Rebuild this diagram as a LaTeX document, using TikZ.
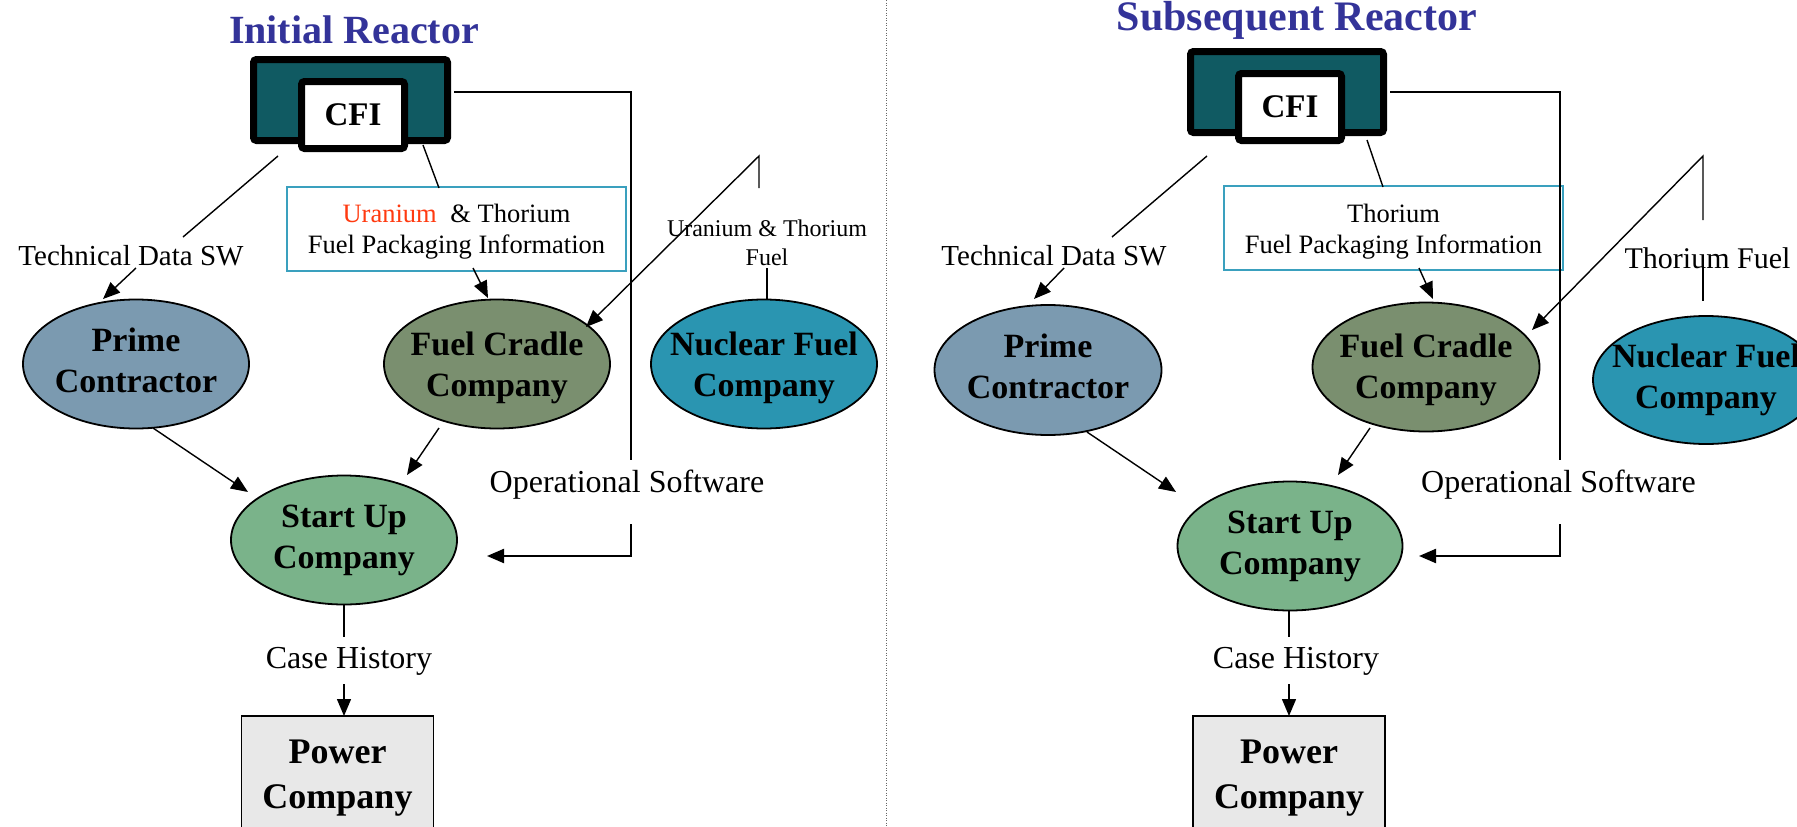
\documentclass[tikz,border=0pt]{standalone}
\usepackage{fontspec}
\setmainfont{Liberation Serif}
\usetikzlibrary{shapes.geometric,arrows.meta}
\definecolor{titleBlue}{RGB}{51,51,153}
\definecolor{cfiTeal}{RGB}{16,90,98}
\definecolor{boxBlue}{RGB}{58,160,190}
\definecolor{uranRed}{RGB}{255,58,16}
\definecolor{primeC}{RGB}{123,154,176}
\definecolor{cradleC}{RGB}{122,143,111}
\definecolor{nuclearC}{RGB}{42,149,177}
\definecolor{startC}{RGB}{122,179,138}
\definecolor{powerC}{RGB}{232,232,232}
\newcommand{\ztext}[2][0pt]{\makebox[0pt]{\raisebox{#1}[\height][\depth]{\begin{tabular}{@{}c@{}}#2\end{tabular}}}}
\begin{document}
\begin{tikzpicture}[x=1pt,y=-1pt,
 every node/.style={inner sep=0pt,outer sep=0pt},
 titlefont/.style={font=\fontsize{40}{48}\selectfont\bfseries,text=titleBlue},
 cfiout/.style={draw=black,line width=7pt,fill=cfiTeal,rounded corners=3pt,minimum width=194pt,minimum height=81pt},
 cfiin/.style={draw=black,line width=7pt,fill=white,rounded corners=3pt,minimum width=103pt,minimum height=67pt,font=\fontsize{33}{40}\selectfont\bfseries},
 ell/.style={ellipse,draw=black,line width=1.8pt,minimum width=226pt,minimum height=129pt,font=\fontsize{34}{41}\selectfont\bfseries},
 infobox/.style={draw=boxBlue,line width=2pt,fill=white,minimum width=339pt,minimum height=84pt,font=\fontsize{26.5}{31}\selectfont},
 powerbox/.style={draw=black,line width=1.8pt,fill=powerC,minimum width=192pt,minimum height=121pt,font=\fontsize{36}{45}\selectfont\bfseries},
 lbl/.style={font=\fontsize{32}{38}\selectfont},
 conn/.style={line width=1.4pt},
 arr/.style={line width=1.4pt,-{Triangle[length=17pt,width=14pt]}},
 oparr/.style={line width=2.2pt,-{Triangle[length=17pt,width=14pt]}}
]
\useasboundingbox (0,0) rectangle (1797,827);

% divider
\draw[line width=1pt,dash pattern=on 1pt off 1.5pt,black!60] (886,0) -- (886,827);

% ================= LEFT PANEL =================
\node[titlefont,anchor=base] (titleL) at (354,43) {Initial Reactor};
\node[cfiout] (cfiOutL) at (350.5,100) {};
\node[cfiin] (cfiInL) at (353,115) {CFI};

\node[infobox] (boxL) at (456.5,228.5) {\ztext[-3pt]{{\color{uranRed}Uranium}\hspace{7pt} \& Thorium\\Fuel Packaging Information}};

\node[ell,fill=primeC] (primeL) at (136,364) {\ztext{Prime\\Contractor}};
\node[ell,fill=cradleC] (cradleL) at (497,364) {\ztext[-4pt]{Fuel Cradle\\Company}};
\node[ell,fill=nuclearC] (nuclearL) at (764,364) {\ztext[-4pt]{Nuclear Fuel\\Company}};
\node[ell,fill=startC] (startL) at (344,540) {\ztext{Start Up\\Company}};
\node[powerbox] (powerL) at (337.5,776.5) {\ztext{Power\\Company}};

\node[lbl,font=\fontsize{29}{35}\selectfont,anchor=base] (tdL) at (131,265) {Technical Data SW};
\node[font=\fontsize{24}{29}\selectfont] (utL) at (767,245.5) {\ztext{Uranium \& Thorium\\Fuel}};
\node[lbl,anchor=base] (opL) at (627,492) {Operational Software};
\node[lbl,anchor=base] (caseL) at (349,668) {Case History};

\coordinate (tdL1) at (278,156);
\coordinate (tdL2) at (183,237);
\coordinate (tdL3) at (136,268);
\coordinate (tdL4) at (103,299);
\draw[conn] (tdL1) -- (tdL2);
\draw[arr] (tdL3) -- (tdL4);

\coordinate (bxL1) at (423,145);
\coordinate (bxL2) at (439,188);
\coordinate (bxL3) at (473,268);
\coordinate (bxL4) at (488,298);
\draw[conn] (bxL1) -- (bxL2);
\draw[arr] (bxL3) -- (bxL4);

\coordinate (utL1) at (759,188);
\coordinate (utL2) at (759,156);
\coordinate (utL3) at (586,327);
\coordinate (utL4) at (767,268);
\coordinate (utL5) at (767,300);
\draw[arr] (utL1) -- (utL2) -- (utL3);
\draw[conn] (utL4) -- (utL5);

\coordinate (opL0) at (454,92);
\coordinate (opL1) at (631,92);
\coordinate (opL2) at (631,460);
\coordinate (opL3) at (631,524);
\coordinate (opL4) at (631,556);
\coordinate (opL5) at (487,556);
\draw[conn] (opL0) -- (opL1) -- (opL2);
\draw[oparr] (opL3) -- (opL4) -- (opL5);

\coordinate (psL1) at (153,428);
\coordinate (psL2) at (248,492);
\draw[arr] (psL1) -- (psL2);
\coordinate (csL1) at (439,428);
\coordinate (csL2) at (407,475);
\draw[arr] (csL1) -- (csL2);

\coordinate (chL1) at (344,637);
\coordinate (chL2) at (344,684);
\draw[conn] (startL.south -| chL1) -- (chL1);
\draw[arr] (chL2) -- (powerL.north -| chL2);

% ================= RIGHT PANEL =================
\node[titlefont,font=\fontsize{42}{50}\selectfont\bfseries,anchor=base] (titleR) at (1297,30) {Subsequent Reactor};
\node[cfiout,minimum width=193pt] (cfiOutR) at (1287,92) {};
\node[cfiin] (cfiInR) at (1290,107) {CFI};

\node[infobox] (boxR) at (1393.5,228) {\ztext[-3.5pt]{Thorium\\Fuel Packaging Information}};

\node[ell,fill=primeC,minimum width=227pt,minimum height=130pt] (primeR) at (1048,370) {\ztext{Prime\\Contractor}};
\node[ell,fill=cradleC,minimum width=227pt] (cradleR) at (1426,367) {\ztext[-3pt]{Fuel Cradle\\Company}};
\node[ell,fill=nuclearC,minimum height=128pt] (nuclearR) at (1706,380) {\ztext{Nuclear Fuel\\Company}};
\node[ell,fill=startC,minimum width=225pt] (startR) at (1290,546) {\ztext{Start Up\\Company}};
\node[powerbox] (powerR) at (1289,776.5) {\ztext{Power\\Company}};

\node[lbl,font=\fontsize{29}{35}\selectfont,anchor=base] (tdR) at (1054,265) {Technical Data SW};
\node[lbl,font=\fontsize{30}{36}\selectfont,anchor=base] (thR) at (1707.5,268) {Thorium Fuel};
\node[lbl,anchor=base] (opR) at (1558.5,492) {Operational Software};
\node[lbl,anchor=base] (caseR) at (1296,668) {Case History};

\coordinate (tdR1) at (1207,156);
\coordinate (tdR2) at (1112,237);
\coordinate (tdR3) at (1064,268);
\coordinate (tdR4) at (1034,299);
\draw[conn] (tdR1) -- (tdR2);
\draw[arr] (tdR3) -- (tdR4);

\coordinate (bxR1) at (1367,140);
\coordinate (bxR2) at (1383,187);
\coordinate (bxR3) at (1419,268);
\coordinate (bxR4) at (1433,299);
\draw[conn] (bxR1) -- (bxR2);
\draw[arr] (bxR3) -- (bxR4);

\coordinate (thR1) at (1703,220);
\coordinate (thR2) at (1703,156);
\coordinate (thR3) at (1532,330);
\coordinate (thR4) at (1703,268);
\coordinate (thR5) at (1703,301);
\draw[arr] (thR1) -- (thR2) -- (thR3);
\draw[conn] (thR4) -- (thR5);

\coordinate (opR0) at (1390,92);
\coordinate (opR1) at (1560,92);
\coordinate (opR2) at (1560,460);
\coordinate (opR3) at (1560,524);
\coordinate (opR4) at (1560,556);
\coordinate (opR5) at (1419,556);
\draw[conn] (opR0) -- (opR1) -- (opR2);
\draw[oparr] (opR3) -- (opR4) -- (opR5);

\coordinate (psR1) at (1087,432);
\coordinate (psR2) at (1176,492);
\draw[arr] (psR1) -- (psR2);
\coordinate (csR1) at (1370,428);
\coordinate (csR2) at (1338,475);
\draw[arr] (csR1) -- (csR2);

\coordinate (chR1) at (1289,637);
\coordinate (chR2) at (1289,684);
\draw[conn] (startR.south -| chR1) -- (chR1);
\draw[arr] (chR2) -- (powerR.north -| chR2);
\end{tikzpicture}
\end{document}
